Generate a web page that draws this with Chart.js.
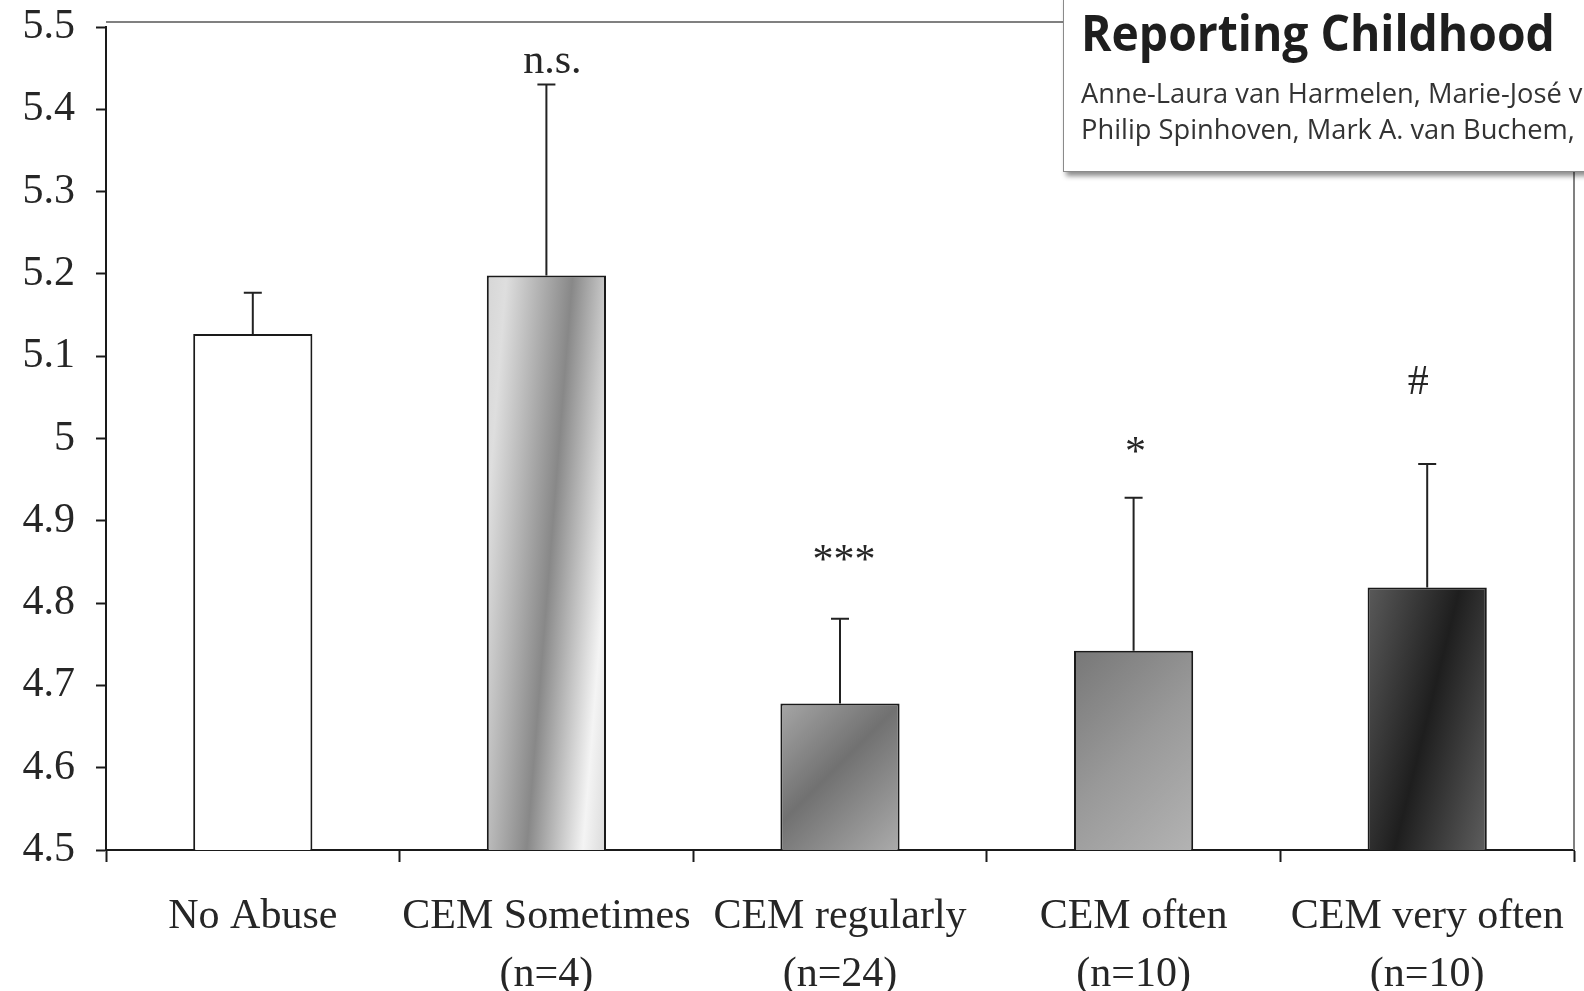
<!DOCTYPE html>
<html>
<head>
<meta charset="utf-8">
<script src="https://cdn.jsdelivr.net/npm/chart.js@4/dist/chart.umd.min.js"></script>
<style>
  html, body { margin:0; padding:0; background:#fff; width:1584px; height:991px; overflow:hidden; }
  #wrap { position:relative; width:1584px; height:991px; }
  #c { position:absolute; left:0; top:0; }
  #box { position:absolute; left:1063px; top:-4px; width:560px; height:174px; background:#fff;
         border:1px solid #8a8a8a; box-shadow: 3px 4px 5px rgba(0,0,0,0.45); overflow:hidden; }
  #title { position:absolute; left:17px; top:1px; font-family:'Open Sans'; font-weight:700; font-size:50px;
           color:#1e1e1e; white-space:nowrap; transform-origin:0 0; transform:scaleX(0.925); }
  .auth { position:absolute; left:17px; font-family:'Open Sans'; font-size:27px; color:#333;
          white-space:nowrap; transform-origin:0 0; transform:scaleX(1.01); }
</style>
</head>
<body>
<div id="wrap">
  <canvas id="c" width="1584" height="991"></canvas>
  <div id="box">
    <div id="title">Reporting Childhood</div>
    <div class="auth" style="top:77px">Anne-Laura van Harmelen, Marie-José v</div>
    <div class="auth" style="top:113px">Philip Spinhoven, Mark A. van Buchem,</div>
  </div>
</div>
<script>
// ---- data ----
const categories = [["No Abuse"], ["CEM Sometimes", "(n=4)"], ["CEM regularly", "(n=24)"], ["CEM often", "(n=10)"], ["CEM very often", "(n=10)"]];
const means = [5.127, 5.198, 4.678, 4.742, 4.819];
const errors = [0.050, 0.232, 0.103, 0.186, 0.150];
const annotations = ["", "n.s.", "***", "*", "#"];
const annotationY = [null, 5.4435, 4.8366, 4.968, 5.054];
const yTickValues = [4.5, 4.6, 4.7, 4.8, 4.9, 5.0, 5.1, 5.2, 5.3, 5.4, 5.5];
const yTickLabels = ["4.5", "4.6", "4.7", "4.8", "4.9", "5", "5.1", "5.2", "5.3", "5.4", "5.5"];

// ---- styles ----
const barPct = 0.406;
const annotationDx = [0, 6, 4, 2, -9];
const fillStyles = [
  null,
  { dir: [1, 0.08], stops: [[0, '#d6d6d6'], [0.12, '#dedede'], [0.52, '#888888'], [0.86, '#f4f4f4'], [1, '#dadada']] },
  { dir: [1, 1], stops: [[0, '#a6a6a6'], [0.45, '#717171'], [1, '#ababab']] },
  { dir: [1, 1], stops: [[0, '#777777'], [0.5, '#999999'], [1, '#b3b3b3']] },
  { dir: [1, 0.25], stops: [[0, '#5a5a5a'], [0.5, '#1e1e1e'], [1, '#5e5e5e']] }
];
const serif = "'Liberation Serif', 'Times New Roman', serif";
const textColor = '#262626';

function barFill(ctx) {
  const chart = ctx.chart;
  const i = ctx.dataIndex;
  const st = fillStyles[i];
  if (!st || !chart.chartArea) return '#ffffff';
  const xs = chart.scales.x, ys = chart.scales.y;
  const cx = xs.getPixelForValue(i);
  const w = xs.width / categories.length * barPct;
  const x0 = cx - w / 2;
  const y0 = ys.getPixelForValue(means[i]), y1 = ys.bottom;
  const h = y1 - y0;
  const [dx, dy] = st.dir;
  const len = Math.hypot(dx, dy);
  const ux = dx / len, uy = dy / len;
  const span = w * ux + h * uy;
  const g = chart.ctx.createLinearGradient(x0, y0, x0 + ux * span, y0 + uy * span);
  st.stops.forEach(s => g.addColorStop(s[0], s[1]));
  return g;
}

const extrasPlugin = {
  id: 'extras',
  afterDatasetsDraw(chart) {
    const c = chart.ctx, ys = chart.scales.y, ca = chart.chartArea;
    const meta = chart.getDatasetMeta(0);
    c.save();
    // frame (top + right)
    c.strokeStyle = '#808080';
    c.lineWidth = 2;
    c.beginPath();
    c.moveTo(ca.left, ca.top - 5);
    c.lineTo(ca.right, ca.top - 5);
    c.moveTo(ca.right, ca.top - 5);
    c.lineTo(ca.right, ca.bottom);
    c.stroke();
    // error bars
    c.strokeStyle = '#222';
    c.lineWidth = 2;
    meta.data.forEach((el, i) => {
      const yt = ys.getPixelForValue(means[i] + errors[i]);
      c.beginPath();
      c.moveTo(el.x, el.y);
      c.lineTo(el.x, yt);
      c.moveTo(el.x - 9, yt);
      c.lineTo(el.x + 9, yt);
      c.stroke();
    });
    // annotations
    c.fillStyle = textColor;
    c.font = '42px ' + serif;
    c.textAlign = 'center';
    c.textBaseline = 'alphabetic';
    meta.data.forEach((el, i) => {
      if (!annotations[i]) return;
      c.fillText(annotations[i], el.x + annotationDx[i], ys.getPixelForValue(annotationY[i]));
    });
    c.restore();
  }
};

new Chart(document.getElementById('c'), {
  type: 'bar',
  data: {
    labels: categories,
    datasets: [{
      data: means,
      backgroundColor: barFill,
      borderColor: '#1a1a1a',
      borderWidth: 2,
      borderSkipped: 'bottom',
      barPercentage: barPct,
      categoryPercentage: 1.0
    }]
  },
  options: {
    responsive: false,
    animation: false,
    devicePixelRatio: 1,
    layout: { padding: { top: 27, right: 10, left: 0, bottom: 0 } },
    plugins: { legend: { display: false }, tooltip: { enabled: false }, title: { display: false } },
    scales: {
      x: {
        offset: true,
        grid: { offset: true, drawOnChartArea: false, drawTicks: true, tickLength: 12, tickColor: '#1a1a1a', tickWidth: 2 },
        border: { display: true, color: '#1a1a1a', width: 2 },
        ticks: { font: { family: serif, size: 42, lineHeight: 1.38 }, color: textColor, padding: 26, maxRotation: 0, autoSkip: false },
        afterFit(s) { s.height = 141; s.paddingLeft = 0; s.paddingRight = 0; }
      },
      y: {
        min: 4.5, max: 5.5,
        afterBuildTicks(s) { s.ticks = yTickValues.map(v => ({ value: v })); },
        grid: { drawOnChartArea: false, drawTicks: true, tickLength: 10, tickColor: '#1a1a1a', tickWidth: 2 },
        border: { display: true, color: '#1a1a1a', width: 2 },
        ticks: {
          font: { family: serif, size: 42 }, color: textColor, padding: 21,
          callback(v, idx) { return yTickLabels[idx]; }
        },
        afterFit(s) { s.width = 106; s.paddingTop = 0; s.paddingBottom = 0; }
      }
    }
  },
  plugins: [extrasPlugin]
});
</script>
</body>
</html>
